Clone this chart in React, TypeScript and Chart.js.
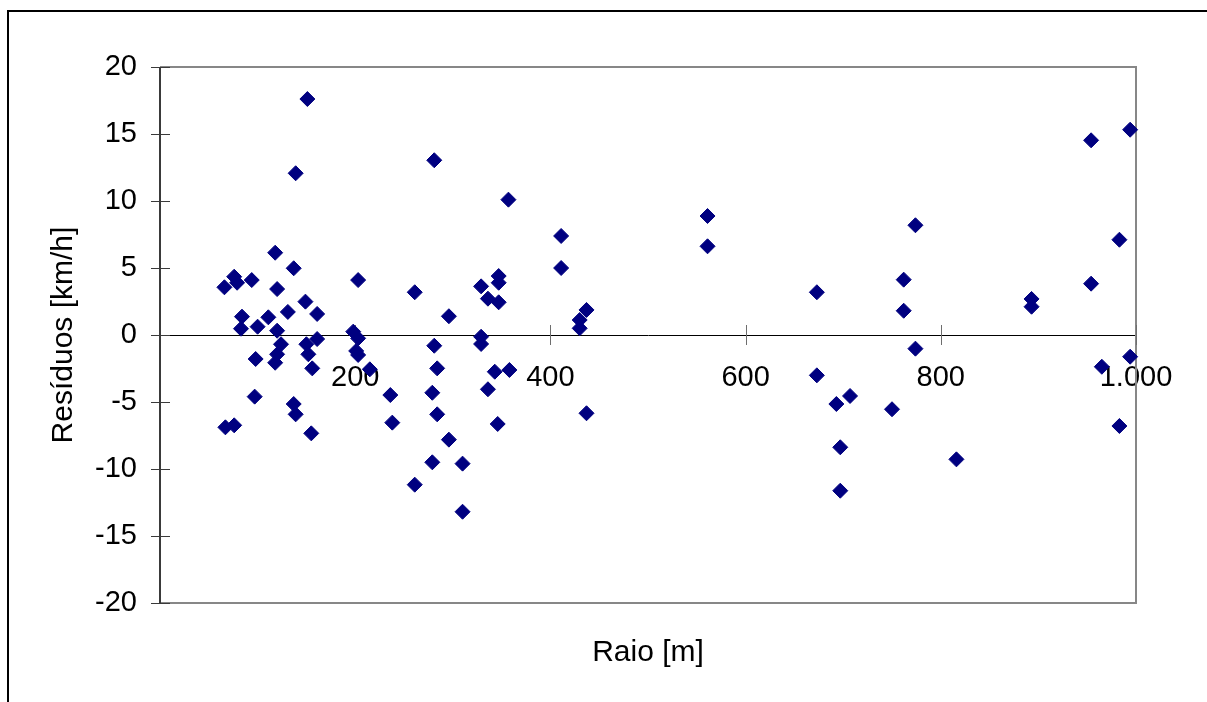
import { useEffect, useRef } from 'react';
import { Chart, registerables } from 'chart.js';

Chart.register(...registerables);

const raio: number[] = [
  66, 76, 79, 94, 84, 83, 100, 98, 97, 67,
  76, 111, 118, 120, 120, 124, 120, 118, 137, 131,
  137, 139, 149, 150, 152, 156, 155, 161, 161, 151,
  139, 198, 203, 201, 203, 203, 215, 236, 238, 261,
  261, 281, 281, 279, 279, 284, 284, 296, 296, 310,
  310, 329, 329, 329, 336, 336, 347, 347, 347, 343,
  346, 357, 358, 411, 411, 437, 430, 430, 437, 561,
  561, 673, 673, 693, 707, 697, 697, 750, 762, 762,
  774, 774, 816, 893, 893, 954, 954, 965, 983, 983,
  994, 994,
];

const residuos: number[] = [
  3.56, 4.35, 3.9, 4.1, 1.37, 0.47, 0.62, -1.79, -4.6, -6.89,
  -6.74, 1.32, 6.14, 3.43, 0.32, -0.69, -1.44, -2.07, 4.98, 1.72,
  -5.15, -5.92, 2.49, -0.69, -1.44, -2.49, -7.34, 1.57, -0.3, 17.61,
  12.07, 0.25, -0.25, -1.19, -1.49, 4.1, -2.56, -4.48, -6.54, 3.19,
  -11.17, 13.04, -0.8, -4.31, -9.5, -2.49, -5.92, 1.4, -7.81, -9.6,
  -13.19, 3.63, -0.13, -0.67, 2.71, -4.05, 4.4, 3.9, 2.44, -2.74,
  -6.64, 10.1, -2.61, 7.39, 5.0, 1.87, 1.12, 0.5, -5.84, 8.88,
  6.62, 3.19, -3.01, -5.15, -4.55, -8.38, -11.62, -5.54, 4.13, 1.81,
  8.19, -1.02, -9.28, 2.69, 2.11, 14.53, 3.83, -2.37, 7.11, -6.79,
  15.32, -1.62,
];

const xRange = { min: 0, max: 1000, step: 200 };
const yRange = { min: -20, max: 20, step: 5 };
const xTitle = 'Raio [m]';
const yTitle = 'Resíduos [km/h]';

const FONT = "'Liberation Sans', Arial, sans-serif";

const fmtThousands = (v: number) =>
  String(v).replace(/\B(?=(\d{3})+(?!\d))/g, '.');

const framePlugin = {
  id: 'excelFrame',
  beforeDatasetsDraw(chart: any) {
    const { ctx, chartArea: a, scales } = chart;
    const W = chart.width;
    const H = chart.height;
    ctx.save();
    // outer chart frame (cut off at right and bottom)
    ctx.strokeStyle = '#000000';
    ctx.lineWidth = 2;
    ctx.beginPath();
    ctx.moveTo(8, H);
    ctx.lineTo(8, 11);
    ctx.lineTo(W, 11);
    ctx.stroke();

    // plot area border (gray)
    ctx.strokeStyle = '#878787';
    ctx.lineWidth = 2;
    ctx.beginPath();
    ctx.moveTo(a.left, a.top);
    ctx.lineTo(a.right, a.top);
    ctx.lineTo(a.right, a.bottom);
    ctx.lineTo(a.left, a.bottom);
    ctx.stroke();

    // y axis line
    ctx.strokeStyle = '#3a3a3a';
    ctx.lineWidth = 2;
    ctx.beginPath();
    ctx.moveTo(a.left, a.top);
    ctx.lineTo(a.left, a.bottom);
    ctx.stroke();

    // y tick marks crossing the axis
    const ys = scales.y;
    ctx.strokeStyle = '#3a3a3a';
    ctx.lineWidth = 1;
    ys.ticks.forEach((t: any) => {
      const py = Math.round(ys.getPixelForValue(t.value)) + 0.5;
      ctx.beginPath();
      ctx.moveTo(a.left - 9, py);
      ctx.lineTo(a.left + 10, py);
      ctx.stroke();
    });

    // x tick marks crossing the zero line
    const xs = scales.x;
    const y0 = ys.getPixelForValue(0);
    ctx.strokeStyle = '#6e6e6e';
    ctx.lineWidth = 1;
    xs.ticks.forEach((t: any) => {
      if (t.value === 0) return;
      const px = Math.round(xs.getPixelForValue(t.value)) + 0.5;
      ctx.beginPath();
      ctx.moveTo(px, y0 - 10);
      ctx.lineTo(px, y0 + 10);
      ctx.stroke();
    });
    ctx.restore();
  },
};

export default function App() {
  const ref = useRef<HTMLCanvasElement | null>(null);

  useEffect(() => {
    if (!ref.current) return;
    const points = raio.map((x, i) => ({ x, y: residuos[i] }));
    const chart = new Chart(ref.current, {
      type: 'scatter',
      data: {
        datasets: [
          {
            label: 'Resíduos',
            data: points,
            pointStyle: 'rectRot',
            pointRadius: 7.5,
            pointHoverRadius: 7.5,
            backgroundColor: '#000080',
            borderColor: '#000080',
            borderWidth: 1,
            clip: false,
          } as any,
        ],
      },
      options: {
        animation: false,
        responsive: false,
        maintainAspectRatio: false,
        layout: { padding: { left: 0, top: 67, right: 71, bottom: 0 } },
        plugins: {
          legend: { display: false },
          tooltip: { enabled: false },
        },
        scales: {
          x: {
            type: 'linear',
            position: { y: 0 } as any,
            min: xRange.min,
            max: xRange.max,
            grid: { display: true, drawOnChartArea: false, drawTicks: false },
            border: { display: true, color: '#000000', width: 1 },
            ticks: {
              stepSize: xRange.step,
              padding: 26,
              color: '#000000',
              font: { family: FONT, size: 29 },
              maxRotation: 0,
              autoSkip: false,
              callback: (v: any) => (Number(v) === 0 ? '' : fmtThousands(Number(v))),
            },
          },
          x2: {
            type: 'linear',
            position: 'bottom',
            display: true,
            grid: { display: false },
            border: { display: false },
            ticks: { display: false },
            title: {
              display: true,
              text: xTitle,
              color: '#000000',
              font: { family: FONT, size: 30 },
              padding: { top: 0, bottom: 31 },
            },
            afterFit: (s: any) => {
              s.height = 99;
            },
          },
          y: {
            type: 'linear',
            position: 'left',
            min: yRange.min,
            max: yRange.max,
            grid: { display: false, drawTicks: false },
            border: { display: false },
            ticks: {
              stepSize: yRange.step,
              padding: 23,
              color: '#000000',
              font: { family: FONT, size: 29 },
              callback: (v: any) => String(v),
            },
            title: {
              display: true,
              text: yTitle,
              color: '#000000',
              font: { family: FONT, size: 30 },
              padding: { top: 46, bottom: 0 },
            },
            afterFit: (s: any) => {
              s.width = 160;
            },
          },
        },
      },
      plugins: [framePlugin],
    });
    return () => chart.destroy();
  }, []);

  return (
    <div style={{ position: 'fixed', left: 0, top: 0, width: 1207, height: 702, background: '#ffffff' }}>
      <canvas ref={ref} width={1207} height={702} style={{ display: 'block' }} />
    </div>
  );
}
